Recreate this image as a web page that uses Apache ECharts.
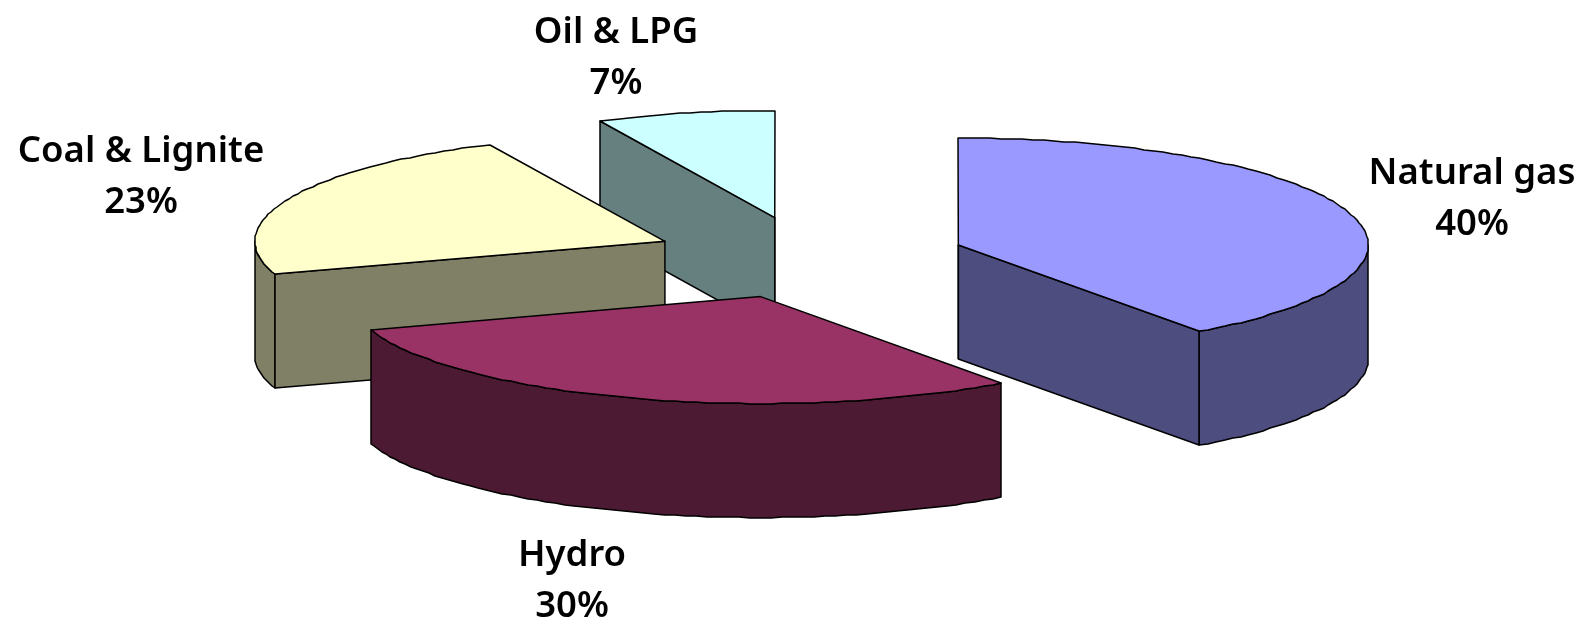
<!DOCTYPE html>
<html>
<head>
<meta charset="utf-8">
<title>Generation mix by fuel</title>
<script src="https://cdn.jsdelivr.net/npm/echarts@6/dist/echarts.min.js"></script>
<style>
  html, body { margin: 0; padding: 0; background: #fff; }
  #chart { width: 1581px; height: 622px; }
</style>
</head>
<body>
<div id="chart"></div>
<script>
// Fuel shares, clockwise from twelve o'clock
const categories = ['Natural gas', 'Hydro', 'Coal & Lignite', 'Oil & LPG'];
const shares = [40, 30, 23, 7];

// Top-face and side-face colours per fuel
const topColors = ['#9999FF', '#993366', '#FFFFCC', '#CCFFFF'];
const sideColors = ['#4D4D80', '#4D1A33', '#808066', '#668080'];

// Centre of each two-line label, in pixels
const labelCentres = [[1472, 199], [572, 581], [141, 177], [616, 58]];

// Projection of the tilted disc
const centre = [809, 257.6];
const radiusX = 410;
const radiusY = 107;
const depth = 114;
const explodeX = 157;
const explodeY = 41;
const arcStepDeg = 1.5;

const total = shares.reduce((a, b) => a + b, 0);
const rad = d => d * Math.PI / 180;

// Running start angle of each slice, in degrees
const startAngles = [];
shares.reduce((acc, v, i) => { startAngles[i] = acc; return acc + v / total * 360; }, 0);

function sliceApex(a0, a1) {
  const mid = rad((a0 + a1) / 2);
  return [centre[0] + explodeX * Math.sin(mid), centre[1] - explodeY * Math.cos(mid)];
}

// Point on the rim of a slice; vertices snap to whole pixels
function rimPoint(apex, deg, drop) {
  return [
    Math.round(apex[0] + radiusX * Math.sin(rad(deg))),
    Math.round(apex[1] - radiusY * Math.cos(rad(deg)) + drop)
  ];
}

function arcPoints(apex, a0, a1, drop) {
  const pts = [];
  const n = Math.max(1, Math.ceil((a1 - a0) / arcStepDeg));
  for (let i = 0; i <= n; i++) pts.push(rimPoint(apex, a0 + (a1 - a0) * i / n, drop));
  return pts;
}

function facet(points, fill, z2) {
  return {
    type: 'polygon',
    z2: z2,
    shape: { points: points },
    style: { fill: fill, stroke: '#000', lineWidth: 1.5, lineJoin: 'round' }
  };
}

function renderSlice(params, api) {
  const i = params.dataIndex;
  const value = api.value(0);
  const a0 = startAngles[i];
  const a1 = a0 + value / total * 360;
  const apex = sliceApex(a0, a1);
  const base = apex[1];   // slices further back are painted first
  const side = sideColors[i];
  const children = [];

  // Outer wall: only the part of the rim in the front half of the ellipse
  const rimFrom = Math.max(a0, 90);
  const rimTo = Math.min(a1, 270);
  if (rimTo > rimFrom) {
    const upper = arcPoints(apex, rimFrom, rimTo, 0);
    const lower = arcPoints(apex, rimFrom, rimTo, depth).reverse();
    children.push(facet(upper.concat(lower), side, base));
  }

  // Cut faces that turn towards the viewer
  [[a0, Math.sin(rad(a0)) < -1e-6], [a1, Math.sin(rad(a1)) > 1e-6]].forEach(function (edge) {
    if (!edge[1]) return;
    const p = rimPoint(apex, edge[0], 0);
    const q = rimPoint(apex, edge[0], depth);
    children.push(facet([apex, p, q, [apex[0], apex[1] + depth]], side, base + 0.1));
  });

  // Vertical face edge where a slice ends exactly at twelve o'clock
  if (Math.abs(Math.sin(rad(a0))) < 1e-6 || Math.abs(Math.sin(rad(a1))) < 1e-6) {
    children.push({
      type: 'line',
      z2: base + 0.1,
      shape: { x1: apex[0], y1: apex[1], x2: apex[0], y2: apex[1] + depth },
      style: { stroke: '#000', lineWidth: 1.5 }
    });
  }

  // Top face
  children.push(facet([apex].concat(arcPoints(apex, a0, a1, 0)), topColors[i], base + 0.2));

  // Two-line label
  children.push({
    type: 'text',
    z2: 100000,
    style: {
      x: labelCentres[i][0],
      y: labelCentres[i][1],
      text: categories[i] + '\n' + value + '%',
      align: 'center',
      verticalAlign: 'middle',
      fill: '#000',
      font: '600 36.5px "Noto Sans"',
      lineHeight: 51
    }
  });

  return { type: 'group', children: children };
}

const chart = echarts.init(document.getElementById('chart'), null, { renderer: 'canvas' });
chart.setOption({
  backgroundColor: '#fff',
  animation: false,
  series: [{
    type: 'custom',
    coordinateSystem: 'none',
    renderItem: renderSlice,
    data: categories.map((name, i) => ({ name: name, value: [shares[i]] }))
  }]
});
</script>
</body>
</html>
